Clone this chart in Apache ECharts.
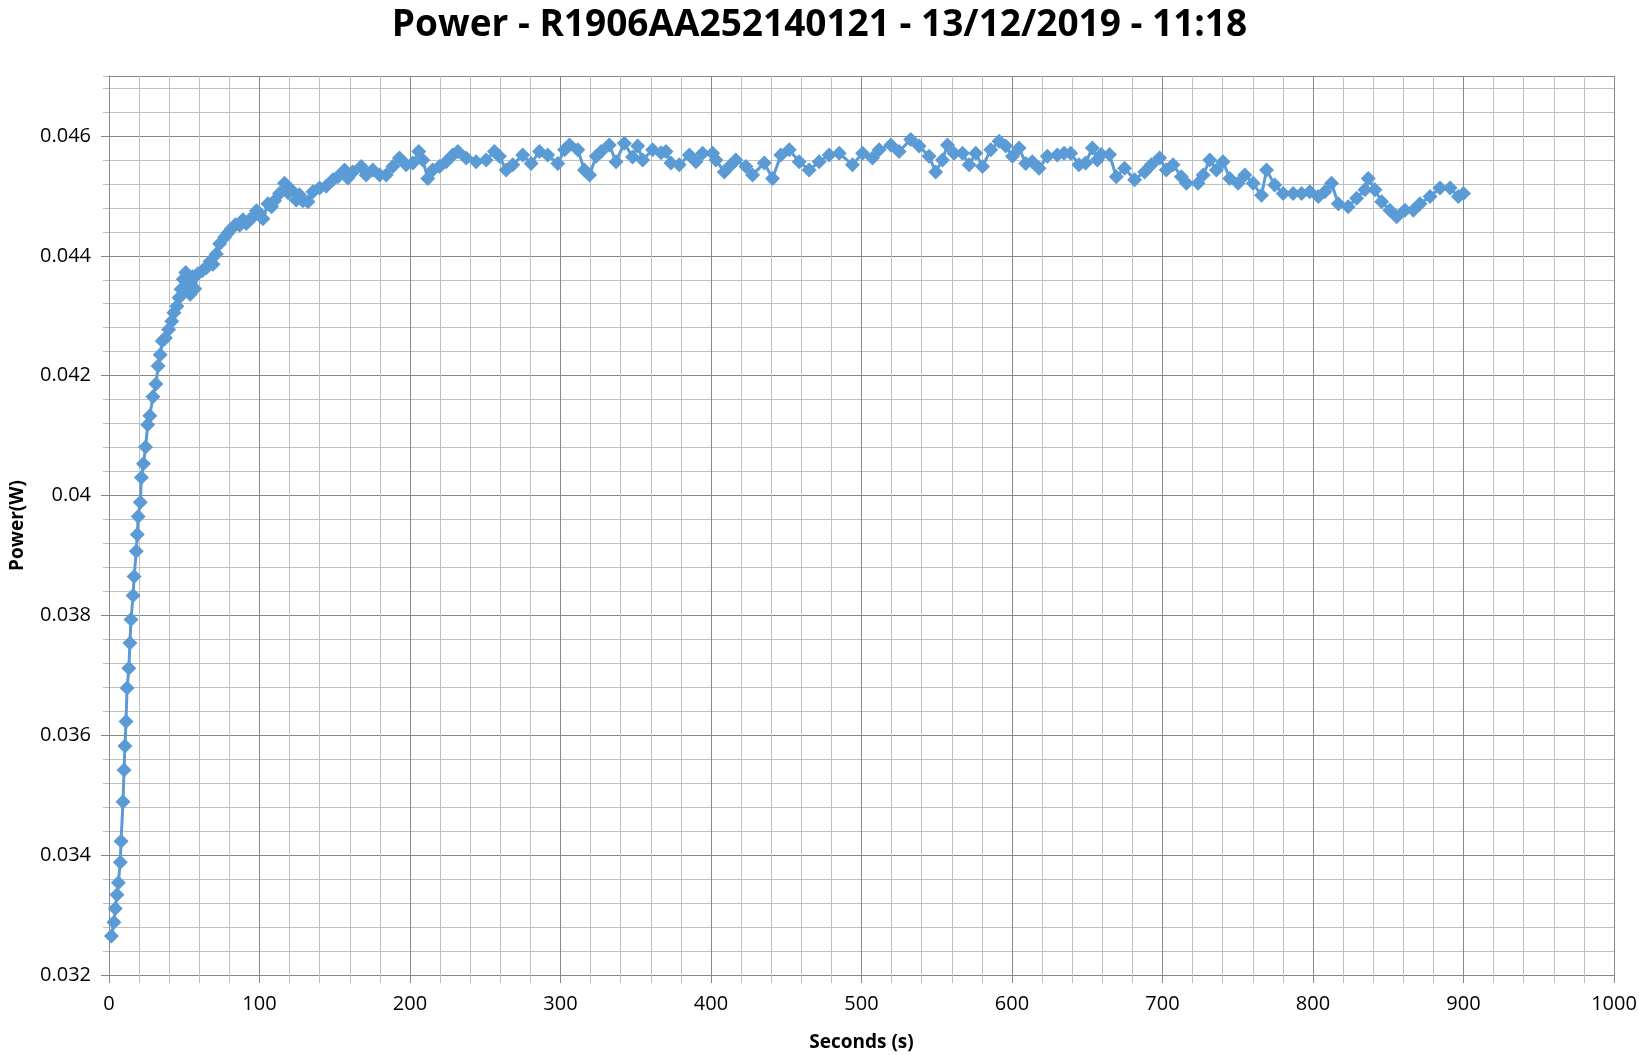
<!DOCTYPE html>
<html>
<head>
<meta charset="utf-8">
<script src="https://cdn.jsdelivr.net/npm/echarts@6/dist/echarts.min.js"></script>
<style>html,body{margin:0;padding:0;background:#fff}#c{width:1639px;height:1055px}</style>
</head>
<body>
<div id="c"></div>
<script>
const titleText = 'Power - R1906AA252140121 - 13/12/2019 - 11:18';
const xName = 'Seconds (s)';
const yName = 'Power(W)';

const seconds = [
1.6,3.3,4.2,5.3,6.2,7.5,8.0,9.3,10.0,10.6,11.3,12.0,13.2,13.9,14.6,16.0,16.7,18.1,18.8,19.4,
20.8,21.5,22.9,24.3,25.7,27.1,29.2,31.2,32.6,34.0,35.4,37.5,39.6,41.7,43.1,45.1,46.5,47.9,49.3,51.0,
52.5,54.0,55.5,57.0,59.0,62.0,64.7,67.0,69.1,71.3,73.5,76.8,79.0,81.3,84.0,86.8,89.0,91.2,93.5,95.7,
98.0,100.1,102.3,105.6,108.0,110.0,113.3,116.6,119.0,121.0,124.4,126.5,128.8,132.2,135.5,139.9,144.3,148.8,152.1,156.5,
158.7,162.0,167.6,170.9,175.3,179.8,184.2,188.6,193.0,197.4,201.9,205.8,208.5,211.8,215.1,219.6,224.0,228.4,231.8,237.3,
243.9,250.6,256.1,259.4,263.9,268.3,274.9,280.5,286.0,291.5,298.2,302.7,306.0,311.5,315.9,319.3,323.7,327.0,332.4,336.9,
342.4,347.9,351.3,354.6,361.2,366.8,370.1,373.4,378.9,385.6,390.0,394.4,401.1,403.3,408.8,412.5,416.5,423.2,427.6,435.4,
440.9,446.4,452.0,458.6,465.2,471.9,478.5,485.2,494.0,500.7,507.3,511.7,519.5,525.0,532.7,538.3,544.9,549.3,553.8,557.1,
561.5,567.1,571.5,575.9,580.4,585.9,591.4,595.8,600.3,604.7,609.1,613.5,618.0,623.5,630.1,634.6,639.0,644.5,648.9,653.4,
656.7,659.3,664.8,669.3,674.8,681.5,688.1,692.6,698.1,702.5,707.0,712.5,715.9,723.6,727.0,731.4,735.8,740.2,744.7,750.2,
754.7,760.2,765.8,769.1,774.6,780.2,786.8,792.4,797.9,803.5,807.9,812.3,816.8,823.4,829.0,834.5,836.7,841.2,845.6,851.1,
855.6,861.1,866.7,871.1,877.8,884.4,891.1,896.6,900.0
];

const powerW = [
0.03265,0.03288,0.03311,0.03334,0.03354,0.03388,0.03423,0.03489,0.03542,0.03582,0.03623,0.03679,0.03712,0.03754,0.03793,0.03833,0.03865,0.03907,0.03935,0.03965,
0.03989,0.04030,0.04053,0.04081,0.04118,0.04133,0.04165,0.04186,0.04216,0.04235,0.04258,0.04263,0.04277,0.04291,0.04305,0.04316,0.04330,0.04344,0.04361,0.04372,
0.04350,0.04336,0.04365,0.04345,0.04370,0.04375,0.04380,0.04390,0.04386,0.04403,0.04420,0.04431,0.04438,0.04445,0.04452,0.04451,0.04460,0.04454,0.04460,0.04465,
0.04475,0.04470,0.04462,0.04487,0.04482,0.04492,0.04504,0.04521,0.04505,0.04510,0.04493,0.04502,0.04492,0.04490,0.04507,0.04513,0.04516,0.04527,0.04532,0.04543,
0.04530,0.04540,0.04549,0.04535,0.04543,0.04535,0.04535,0.04549,0.04563,0.04552,0.04555,0.04574,0.04560,0.04529,0.04543,0.04549,0.04557,0.04568,0.04574,0.04563,
0.04557,0.04560,0.04574,0.04566,0.04543,0.04552,0.04568,0.04554,0.04574,0.04568,0.04554,0.04577,0.04585,0.04577,0.04543,0.04535,0.04566,0.04574,0.04585,0.04557,
0.04588,0.04565,0.04583,0.04560,0.04577,0.04572,0.04574,0.04555,0.04552,0.04568,0.04557,0.04571,0.04571,0.04560,0.04540,0.04550,0.04560,0.04549,0.04535,0.04555,
0.04529,0.04568,0.04577,0.04557,0.04543,0.04557,0.04568,0.04571,0.04552,0.04571,0.04563,0.04577,0.04585,0.04574,0.04594,0.04583,0.04566,0.04540,0.04560,0.04585,
0.04571,0.04571,0.04552,0.04571,0.04549,0.04577,0.04591,0.04583,0.04566,0.04580,0.04554,0.04557,0.04546,0.04566,0.04568,0.04571,0.04571,0.04552,0.04555,0.04580,
0.04560,0.04569,0.04569,0.04532,0.04546,0.04527,0.04540,0.04552,0.04563,0.04543,0.04552,0.04532,0.04521,0.04521,0.04535,0.04560,0.04543,0.04557,0.04529,0.04521,
0.04535,0.04521,0.04501,0.04543,0.04518,0.04504,0.04504,0.04504,0.04507,0.04499,0.04507,0.04521,0.04487,0.04482,0.04496,0.04510,0.04529,0.04510,0.04490,0.04476,
0.04465,0.04476,0.04476,0.04487,0.04499,0.04513,0.04513,0.04499,0.04504
];

const chart = echarts.init(document.getElementById('c'), null, {renderer: 'canvas'});
const font = '"Open Sans", "Liberation Sans", sans-serif';
const major = '#878787';
const minor = '#C0C0C0';

chart.setOption({
  animation: false,
  backgroundColor: '#ffffff',
  title: {
    text: titleText, left: 'center', top: 2,
    textStyle: {fontFamily: font, fontWeight: 'bold', fontSize: 37, color: '#000'}
  },
  grid: {left: 109, right: 25, top: 76, bottom: 80, containLabel: false, outerBoundsMode: 'none'},
  xAxis: {
    type: 'value', min: 0, max: 1000, interval: 100,
    name: xName, nameLocation: 'middle', nameGap: 58,
    nameTextStyle: {fontFamily: font, fontWeight: 'bold', fontSize: 19, color: '#000'},
    axisLine: {show: true, lineStyle: {color: major, width: 1}},
    axisTick: {show: true, length: 8, lineStyle: {color: major}},
    minorTick: {show: true, splitNumber: 5, length: 8, lineStyle: {color: minor}},
    axisLabel: {fontFamily: font, fontSize: 20, color: '#000', margin: 19, formatter: v => String(v)},
    splitLine: {show: true, lineStyle: {color: major, width: 1}},
    minorSplitLine: {show: true, lineStyle: {color: minor, width: 1}}
  },
  yAxis: [
    {
      type: 'value', min: 0.032, max: 0.047, interval: 0.0004, position: 'left',
      axisLine: {show: false},
      axisTick: {show: true, length: 6, lineStyle: {color: minor}},
      axisLabel: {show: false},
      splitLine: {show: true, lineStyle: {color: minor, width: 1}}
    },
    {
      type: 'value', min: 0.032, max: 0.047, interval: 0.002, position: 'left',
      name: yName, nameLocation: 'middle', nameGap: 82, nameRotate: 90,
      nameTextStyle: {fontFamily: font, fontWeight: 'bold', fontSize: 19, color: '#000'},
      axisLine: {show: true, lineStyle: {color: major, width: 1}},
      axisTick: {show: true, length: 8, lineStyle: {color: major}},
      axisLabel: {fontFamily: font, fontSize: 20, color: '#000', margin: 18, showMaxLabel: false},
      splitLine: {show: true, lineStyle: {color: major, width: 1}}
    }
  ],
  series: [{
    type: 'line',
    yAxisIndex: 1,
    data: seconds.map((t, i) => [t, powerW[i]]),
    symbol: 'diamond',
    symbolSize: 15,
    showAllSymbol: true,
    lineStyle: {color: '#5B9BD5', width: 3},
    itemStyle: {color: '#5B9BD5'}
  }]
});
</script>
</body>
</html>
